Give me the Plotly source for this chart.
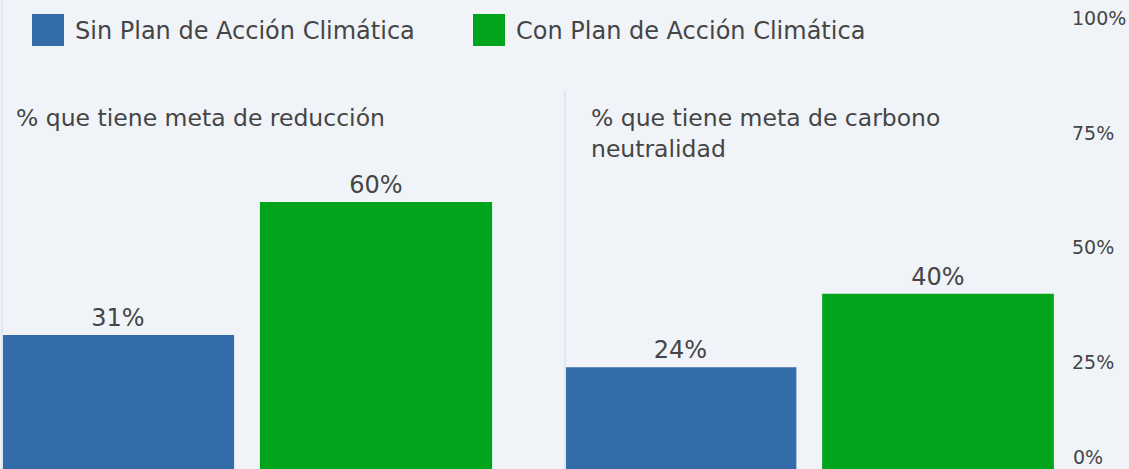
import plotly.graph_objects as go

# ---- data ----
series_names = ["Sin Plan de Acción Climática", "Con Plan de Acción Climática"]
series_colors = ["#336ca9", "#00a51c"]
panel_titles = ["% que tiene meta de reducción", "% que tiene meta de carbono<br>neutralidad"]
sin_plan = [31, 24]                      # Sin Plan: reducción, carbono neutralidad
con_plan = [60, 40]                      # Con Plan: reducción, carbono neutralidad
tick_vals = [25, 50, 75, 100]
tick_text = ["25%", "50%", "75%", "100%"]
zero_label = "0%"

W, H = 1129, 469
ML, MR = 0, 60
PW = W - ML - MR

BG = "#f0f4f9"
TXT = "#454545"
FONT = "DejaVu Sans"

def dom(p0, p1):
    return [(p0 - ML) / PW, (p1 - ML) / PW]

fig = go.Figure()

panels = [
    dict(x0=0, x1=540, c0=118, step=258),
    dict(x0=540, x1=1069, c0=680.5, step=257.5),
]

for i, pan in enumerate(panels):
    xa = "x" if i == 0 else "x2"
    for s, (name, col, vals) in enumerate(zip(series_names, series_colors, [sin_plan, con_plan])):
        fig.add_trace(go.Bar(
            x=[s], y=[vals[i]], name=name, marker=dict(color=col, line=dict(width=0)),
            width=0.9, text=[f"{vals[i]}%"], textposition="outside",
            textfont=dict(size=24, color=TXT, family=FONT), cliponaxis=False,
            xaxis=xa, yaxis="y", showlegend=False, hoverinfo="skip",
        ))

def xrange(pan):
    return [(pan["x0"] - pan["c0"]) / pan["step"], (pan["x1"] - pan["c0"]) / pan["step"]]

ax_common = dict(showgrid=False, zeroline=False, showticklabels=False, showline=False,
                 fixedrange=True, anchor="y")
fig.update_layout(
    xaxis=dict(domain=dom(panels[0]["x0"], panels[0]["x1"]), range=xrange(panels[0]), **ax_common),
    xaxis2=dict(domain=dom(panels[1]["x0"], panels[1]["x1"]), range=xrange(panels[1]), **ax_common),
    yaxis=dict(range=[1.81, 104.0], side="right", anchor="free", position=1.0,
               tickvals=tick_vals, ticktext=tick_text, showgrid=False, zeroline=False,
               showline=False, ticks="", tickfont=dict(size=19, color=TXT, family=FONT),
               ticklabelstandoff=2, fixedrange=True),
)

# divider lines
fig.add_shape(type="line", xref="paper", yref="paper", x0=dom(2, 2)[0], x1=dom(2, 2)[0],
              y0=0, y1=1, line=dict(color="#dfe7f1", width=2))
fig.add_shape(type="line", xref="paper", yref="paper", x0=dom(565, 565)[0], x1=dom(565, 565)[0],
              y0=0, y1=(H - 91) / H, line=dict(color="#dfe7f1", width=2))

# panel titles
for t, px in zip(panel_titles, [14, 589]):
    fig.add_annotation(text=t, xref="paper", yref="paper", x=dom(px, px)[0], y=(H - 102) / H,
                       xanchor="left", yanchor="top", align="left", showarrow=False,
                       font=dict(size=23.5, color=TXT, family=FONT))

# legend (custom large swatches)
for name, col, sx in zip(series_names, series_colors, [32, 473]):
    fig.add_shape(type="rect", xref="paper", yref="paper",
                  x0=dom(sx, sx)[0], x1=dom(sx + 32, sx + 32)[0],
                  y0=(H - 46) / H, y1=(H - 14) / H, fillcolor=col, line=dict(width=0))
    fig.add_annotation(text=name, xref="paper", yref="paper", x=dom(sx + 41, sx + 41)[0],
                       y=(H - 31) / H, xanchor="left", yanchor="middle", showarrow=False,
                       font=dict(size=24, color=TXT, family=FONT))

# 0% label (bottom of axis is cropped)
fig.add_annotation(text=zero_label, xref="paper", yref="paper", x=1.0, xshift=2, y=0, yshift=-1,
                   xanchor="left", yanchor="bottom", showarrow=False,
                   font=dict(size=19, color=TXT, family=FONT))

fig.update_layout(
    width=W, height=H, margin=dict(l=ML, r=MR, t=0, b=0, autoexpand=False),
    paper_bgcolor=BG, plot_bgcolor=BG, barmode="overlay", showlegend=False,
    font=dict(family=FONT, color=TXT),
)

fig.write_html("out.html", config={"displayModeBar": False},
               post_script="document.body.style.margin='0';")
